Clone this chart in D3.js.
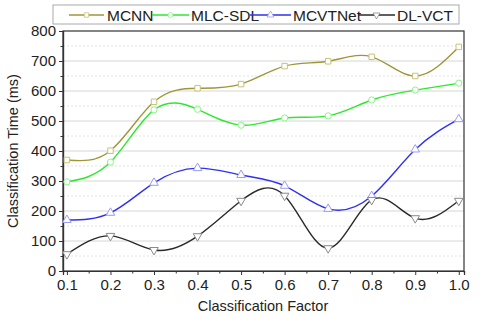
<!DOCTYPE html>
<html>
<head>
<meta charset="utf-8">
<script src="https://cdn.jsdelivr.net/npm/d3@7"></script>
<style>
  body { margin: 0; background: #fff; }
  text { font-family: "Liberation Sans", Arial, sans-serif; }
</style>
</head>
<body>
<svg width="480" height="319"></svg>
<script>
// values
const factors = [0.1, 0.2, 0.3, 0.4, 0.5, 0.6, 0.7, 0.8, 0.9, 1.0]
const mcnn    = [370, 401, 564, 609, 623, 683, 699, 714, 650, 747]
const mlcsdl  = [297, 363, 537, 539, 486, 510, 517, 570, 603, 626]
const mcvtnet = [170, 194, 294, 343, 320, 284, 207, 250, 405, 506]
const dlvct   = [56, 117, 70, 116, 234, 251, 76, 237, 176, 234]
const yTicks  = [0, 100, 200, 300, 400, 500, 600, 700, 800]
const xTicks  = [0.1, 0.2, 0.3, 0.4, 0.5, 0.6, 0.7, 0.8, 0.9, 1.0]

const series = [
  {name: 'MCNN',    values: mcnn,    color: '#9e9638', mark: '#c8c27a', shape: 'square'},
  {name: 'MLC-SDL', values: mlcsdl,  color: '#2ee82e', mark: '#8cf58c', shape: 'circle'},
  {name: 'MCVTNet', values: mcvtnet, color: '#3030f0', mark: '#9a9af5', shape: 'up'},
  {name: 'DL-VCT',  values: dlvct,   color: '#2a2a2a', mark: '#8a8a8a', shape: 'down'}
]

const svg = d3.select('svg')
const margin = {left: 63, top: 31, right: 16, bottom: 48}
const width = 480, height = 319

const x = d3.scaleLinear()
            .domain([0.091, 1.012])
            .range([margin.left, width - margin.right])
const y = d3.scaleLinear()
            .domain([0, 800])
            .range([height - margin.bottom, margin.top])

// grid: major solid, minor dotted
svg.append('g').selectAll('line')
   .data(d3.range(50, 800, 100))
   .join('line')
   .attr('x1', margin.left).attr('x2', width - margin.right)
   .attr('y1', d => y(d)).attr('y2', d => y(d))
   .attr('stroke', '#e2e2e2').attr('stroke-dasharray', '2,2')
svg.append('g').selectAll('line')
   .data(yTicks.slice(1, -1))
   .join('line')
   .attr('x1', margin.left).attr('x2', width - margin.right)
   .attr('y1', d => y(d)).attr('y2', d => y(d))
   .attr('stroke', '#d6d6d6')

// frame
svg.append('rect')
   .attr('x', margin.left).attr('y', margin.top)
   .attr('width', width - margin.right - margin.left)
   .attr('height', height - margin.bottom - margin.top)
   .attr('fill', 'none').attr('stroke', '#333').attr('stroke-width', 1.2)

// axes
svg.append('g')
   .attr('transform', `translate(0,${y(0)})`)
   .call(d3.axisBottom(x).tickValues(xTicks).tickFormat(d3.format('.1f')).tickSizeOuter(0).tickSize(4).tickPadding(4))
svg.append('g')
   .attr('transform', `translate(0,${y(0)})`)
   .call(d3.axisBottom(x).tickValues(d3.range(0.15, 1.0, 0.1)).tickFormat('').tickSizeOuter(0).tickSize(2.5))
svg.append('g')
   .attr('transform', `translate(${margin.left},0)`)
   .call(d3.axisLeft(y).tickValues(yTicks).tickSizeOuter(0).tickSize(4).tickPadding(3))
svg.append('g')
   .attr('transform', `translate(${margin.left},0)`)
   .call(d3.axisLeft(y).tickValues(d3.range(50, 800, 100)).tickFormat('').tickSizeOuter(0).tickSize(2.5))

svg.selectAll('.domain').attr('stroke', '#333').attr('stroke-width', 1.2)
svg.selectAll('.tick line').attr('stroke', '#333')
svg.selectAll('.tick text').attr('font-size', 15).attr('fill', '#222')
   .attr('font-family', '"Liberation Sans", Arial, sans-serif')

// axis titles
svg.append('text')
   .attr('x', 263).attr('y', 311)
   .attr('text-anchor', 'middle').attr('font-size', 14.5).attr('fill', '#222')
   .text('Classification Factor')
svg.append('text')
   .attr('transform', `translate(18,${(margin.top + height - margin.bottom) / 2}) rotate(-90)`)
   .attr('text-anchor', 'middle').attr('font-size', 14.5).attr('fill', '#222')
   .text('Classification Time (ms)')

// markers
const markPath = (shape) => {
  if (shape === 'square') return d3.symbol(d3.symbolSquare, 30)()
  if (shape === 'circle') return d3.symbol(d3.symbolCircle, 30)()
  return d3.symbol(d3.symbolTriangle, 32)()
}

const line = d3.line()
               .x((d, i) => x(factors[i]))
               .y(d => y(d))
               .curve(d3.curveNatural)

series.forEach(s => {
  svg.append('path')
     .attr('d', line(s.values))
     .attr('fill', 'none').attr('stroke', s.color).attr('stroke-width', 1.4)
  svg.append('g').selectAll('path')
     .data(s.values)
     .join('path')
     .attr('d', markPath(s.shape))
     .attr('transform', (d, i) => `translate(${x(factors[i])},${y(d)})` + (s.shape === 'down' ? ' rotate(180)' : ''))
     .attr('fill', '#fff').attr('stroke', s.mark).attr('stroke-width', 1)
})

// legend
svg.append('rect')
   .attr('x', 53).attr('y', 5).attr('width', 406).attr('height', 19)
   .attr('fill', '#fff').attr('stroke', '#aaa')
const legendPos = [
  {x0: 69, x1: 104, tx: 107},
  {x0: 152, x1: 189, tx: 191},
  {x0: 250, x1: 291, tx: 293},
  {x0: 358, x1: 395, tx: 397}
]
series.forEach((s, i) => {
  const p = legendPos[i]
  const g = svg.append('g')
  g.append('line')
   .attr('x1', p.x0).attr('x2', p.x1).attr('y1', 15).attr('y2', 15)
   .attr('stroke', s.color).attr('stroke-width', 1.4)
  g.append('path')
   .attr('d', markPath(s.shape))
   .attr('transform', `translate(${(p.x0 + p.x1) / 2},15) scale(0.8)` + (s.shape === 'down' ? ' rotate(180)' : ''))
   .attr('fill', '#fff').attr('stroke', s.mark)
  g.append('text')
   .attr('x', p.tx).attr('y', 20.5)
   .attr('font-size', 15.5).attr('fill', '#222')
   .text(s.name)
})
</script>
</body>
</html>
